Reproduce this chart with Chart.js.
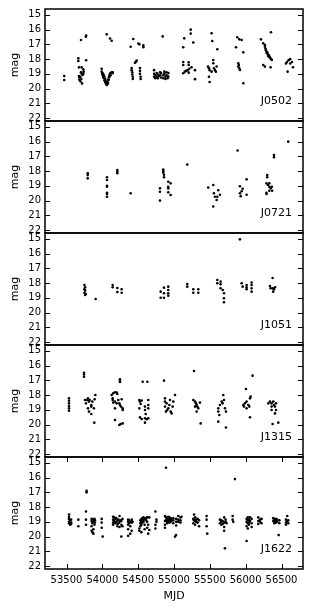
<!DOCTYPE html>
<html>
<head>
<meta charset="utf-8">
<script src="https://cdn.jsdelivr.net/npm/chart.js@4.4.1/dist/chart.umd.min.js"></script>
<style>
  html, body { margin: 0; padding: 0; background: #fff; }
  #fig { position: relative; width: 313px; height: 613px; overflow: hidden; }
  #fig canvas { position: absolute; left: 0; }
</style>
</head>
<body>
<div id="fig"></div>
<script>
// ---- data ----
const names = ['J0502', 'J0721', 'J1051', 'J1315', 'J1622'];
const xTicks = [53500, 54000, 54500, 55000, 55500, 56000, 56500];
const yTicks = [15, 16, 17, 18, 19, 20, 21, 22];

// one entry per epoch (MJD), with the magnitudes measured at it
const j0502Days = [
  53468, 53665, 53674, 53679, 53693, 53702, 53707, 53712, 53716, 53725, 53735, 53739, 53770, 53774,
  53991, 54000, 54010, 54020, 54030, 54040, 54050, 54061, 54070, 54080, 54090, 54100, 54107, 54115, 54130, 54145,
  54395, 54409, 54418, 54425, 54432, 54455, 54469, 54479, 54502, 54516, 54525, 54535, 54572,
  54722, 54740, 54758, 54775, 54790, 54805, 54820, 54842, 54850, 54865, 54880, 54895, 54910, 54922,
  55129, 55143, 55150, 55170, 55190, 55205, 55214, 55233, 55245, 55269, 55293,
  55474, 55488, 55497, 55525, 55534, 55548, 55557, 55571, 55585, 55595, 55604,
  55865, 55883, 55897, 55905, 55911, 55920, 55944, 55967,
  56213, 56245, 56269, 56276, 56283, 56290, 56297, 56304, 56311, 56318, 56325, 56332, 56339, 56346, 56348, 56353, 56365,
  56562, 56576, 56585, 56599, 56622, 56646, 56660
];
const j0502Mags = [
  [19.15, 19.42], [17.95, 18.13], [18.56, 19.15], [19.25, 19.4], [19.2, 19.5], [16.7, 18.9], [19.35], [18.56, 19.0], [19.65], [19.08], [18.7, 19.0], [18.85], [16.48], [16.4, 18.08],
  [18.65, 18.85], [18.95, 19.05], [19.0, 19.2], [19.1, 19.3], [19.2, 19.45], [19.35, 19.55], [19.5, 19.65], [16.32, 19.6, 19.75], [19.55, 19.7], [19.4, 19.6], [19.25, 19.4], [19.1, 19.2], [16.6, 19.0], [18.95, 19.1], [16.75, 18.9], [18.9, 18.95],
  [17.16], [18.6, 18.75], [18.9, 19.05], [19.2, 19.35], [16.64], [18.25], [18.18], [18.1], [16.94], [17.0], [18.6, 18.8, 19.0], [19.2, 19.35], [17.07, 17.2],
  [18.75, 19.0, 19.2], [19.1, 19.3], [18.95, 19.2], [19.05, 19.3], [19.15], [18.9, 19.1], [18.95, 19.25], [16.46], [19.1, 19.3], [18.85, 19.0], [19.2, 19.35], [18.9, 19.1], [19.15, 19.3], [18.95, 19.2],
  [17.2, 18.2, 18.4, 18.96], [16.59], [18.85], [18.8], [18.75], [18.22, 18.4, 18.92], [18.65], [16.0, 16.27], [18.55], [16.87], [18.75, 19.36],
  [18.51], [18.62, 19.2], [18.75, 19.55], [16.25, 18.85], [16.77], [18.06, 18.28], [18.62], [18.75], [18.85], [18.5], [17.33],
  [17.2], [16.52], [18.28, 18.5], [18.4], [16.66, 18.62], [18.74], [16.7], [17.54, 19.64],
  [16.66], [16.93, 18.4], [17.04, 17.16, 18.51], [17.3], [17.4], [17.5], [17.6], [17.55], [17.7], [17.8], [17.75], [17.85], [17.9], [17.95], [18.56], [16.18, 18.0], [18.05],
  [18.3], [18.2], [18.85], [18.07], [18.0, 18.3], [18.2], [18.55]
];

const j0721Days = [
  53796, 54065, 54209, 54395,
  54804, 54850, 54860, 54920, 54953, 55185,
  55478, 55548, 55557, 55571, 55595, 55604, 55618, 55641,
  55888, 55920, 55930, 55944, 55958, 56013,
  56290, 56301, 56310, 56330, 56350, 56365, 56370, 56395, 56594
];
const j0721Mags = [
  [18.15, 18.27, 18.49], [18.42, 18.6, 18.99, 19.06, 19.47, 19.55, 19.74], [17.92, 18.04, 18.15], [19.5],
  [19.17, 19.4, 20.0], [17.9, 17.97, 18.1], [18.25, 18.42], [18.72, 19.06, 19.17, 19.44], [18.83, 19.62], [17.56],
  [19.12], [18.94, 20.4], [19.5], [19.74], [19.96], [19.74], [19.3], [19.6],
  [16.6], [19.03, 19.5], [19.7], [19.37], [19.2], [18.56, 19.6],
  [18.83, 19.47, 19.55], [18.27, 18.42], [18.94], [18.83, 19.06, 19.33], [19.17], [19.06], [19.33], [16.91, 17.06], [16.0]
];

const j1051Days = [
  53750, 53760, 53770, 53907, 54144, 54209, 54270,
  54814, 54860, 54920, 55185, 55269, 55339,
  55604, 55650, 55680, 55697,
  55920, 55944, 55958, 56013, 56083,
  56339, 56348, 56376, 56385, 56395, 56409
];
const j1051Mags = [
  [18.13, 18.42, 18.65], [18.28, 18.51, 18.81], [18.74], [19.08], [18.13, 18.28], [18.33, 18.6], [18.42, 18.65],
  [18.58, 18.99], [18.31, 18.69, 19.0], [18.24, 18.47, 18.69, 18.85], [18.06, 18.24], [18.42, 18.65], [18.42, 18.65],
  [17.79, 18.01], [17.9, 18.08, 18.35], [18.47], [18.69, 19.03, 19.3],
  [15.03], [18.01], [18.24], [18.13, 18.29, 18.42], [17.96, 18.13, 18.35, 18.58],
  [18.2], [18.35], [17.65, 18.35], [18.58], [18.42], [18.28]
];

const j1315Days = [
  53535, 53744, 53758, 53772, 53790, 53800, 53814, 53823, 53846, 53860, 53883, 53888, 53893, 53902,
  54130, 54144, 54153, 54177, 54200, 54209, 54223, 54237, 54246, 54255, 54260, 54270, 54284,
  54516, 54525, 54535, 54549, 54563, 54595, 54605, 54618, 54628, 54641,
  54860, 54874, 54888, 54897, 54906, 54920, 54935, 54944, 54953, 54967, 54981, 54990, 55014,
  55269, 55279, 55293, 55307, 55316, 55325, 55339, 55362, 55372,
  55618, 55632, 55641, 55665, 55679, 55688, 55697, 55711, 55725,
  55967, 55976, 55990, 56004, 56013, 56037, 56051, 56060, 56070, 56097,
  56316, 56339, 56362, 56376, 56385, 56395, 56409, 56423, 56455
];
const j1315Mags = [
  [18.22, 18.38, 18.56, 18.74, 18.9, 19.06], [16.48, 16.61, 16.75], [18.33], [18.56], [18.33], [18.22, 18.9], [18.44, 19.12], [18.33], [18.67, 18.78, 19.28], [18.44], [18.9], [19.87], [18.28], [17.99],
  [17.99], [18.22, 18.33], [17.88, 18.51], [17.81, 18.44, 18.9, 19.69], [17.83, 18.56], [17.92], [18.33], [18.56, 20.03], [16.93, 17.02, 17.11, 18.67], [19.96], [18.78], [18.28], [18.9, 19.01, 19.92],
  [18.33, 18.9], [18.44, 19.51], [18.6], [18.37, 19.62], [17.09], [18.78, 19.01, 19.57, 19.87], [19.28], [19.64], [17.09], [18.33, 18.67, 18.9, 19.57],
  [17.02], [18.22, 18.44, 18.78], [19.12], [18.56], [19.01], [18.9], [18.67], [18.33], [19.12], [19.24], [18.78], [18.44], [17.99],
  [18.33], [16.36], [18.44, 18.78], [18.56], [18.67, 19.12], [18.78], [18.9], [18.51], [19.92],
  [18.9, 19.12, 19.8], [19.35], [18.67], [18.44], [18.56], [17.99], [18.33], [18.9], [19.12, 20.2],
  [18.67], [18.78], [18.56], [17.59], [18.44, 18.9], [18.67], [18.78], [18.22, 19.51], [18.1], [16.68],
  [18.56], [18.44], [18.56, 19.01, 18.78], [19.96], [18.44], [18.67], [18.78, 19.24], [19.01, 18.56], [19.87]
];

const j1622Days = [
  53535, 53550, 53565, 53665, 53772, 53780,
  53850, 53860, 53875, 53890, 53897, 53991, 54005,
  54150, 54165, 54180, 54195, 54210, 54225, 54240, 54255, 54265, 54280,
  54360, 54375, 54390, 54410, 54423,
  54516, 54530, 54545, 54560, 54575, 54590, 54610, 54625, 54640, 54655,
  54740, 54755,
  54874, 54888, 54905, 54920, 54935, 54950, 54965, 54990, 55014, 55028, 55030, 55060, 55090, 55105,
  55269, 55280, 55295, 55310, 55330, 55350, 55455, 55464,
  55641, 55660, 55680, 55700, 55711, 55720, 55734, 55818, 55827, 55850,
  56013, 56030, 56045, 56060, 56083, 56176, 56200, 56222,
  56385, 56400, 56420, 56440, 56460, 56470, 56562, 56580, 56594
];
const j1622Mags = [
  [18.5, 18.65, 18.8, 19.0, 19.1], [18.9, 19.2], [18.85, 19.05, 19.15], [18.85, 19.3], [18.3, 18.85, 19.2], [16.9, 17.0],
  [18.8, 18.95, 19.3, 19.6], [19.1, 19.7], [18.85, 19.0, 19.5, 19.8], [18.8, 19.2], [18.9, 19.05], [18.8, 19.05, 19.4], [20.0],
  [18.65, 18.85, 19.05, 19.2], [18.7, 18.95], [18.8, 19.1], [18.75, 19.0], [18.9, 19.15, 19.3], [18.85, 19.1], [18.6, 19.0, 19.35], [18.9], [18.95, 19.2, 20.0], [18.8, 19.3],
  [18.85, 19.0, 19.2, 19.5, 19.95], [18.9, 19.1], [19.0, 19.3, 19.8], [18.85, 19.05, 19.6], [19.0],
  [19.45, 19.6], [18.9, 19.1, 19.3], [18.8, 19.0, 19.2, 19.7], [18.75, 18.9, 19.05], [18.7, 18.85, 19.0], [18.8, 19.2, 19.5], [18.75, 18.9], [18.7, 19.0, 19.4], [19.2, 19.8], [18.7, 19.55],
  [18.3, 19.2, 19.45], [18.85, 19.0],
  [18.6, 18.95, 19.2, 19.4], [15.33, 18.7, 18.9], [18.8, 19.0, 19.1], [18.65, 18.85, 18.95], [18.7, 18.9, 19.05], [18.75, 18.85, 19.0], [18.8, 18.95], [18.75, 18.9, 19.1], [20.0], [19.9], [18.8, 19.0, 19.25], [18.6, 18.85, 19.0], [18.7, 18.9, 19.05], [18.65],
  [18.8, 19.1], [18.5, 18.9], [18.7, 18.95, 19.2], [18.85, 19.0], [18.8, 19.05], [18.9, 19.3], [18.6, 18.85, 19.3], [19.8],
  [18.85, 19.1], [18.9, 19.0, 19.2], [18.95, 19.15], [18.7, 19.05, 19.35, 19.6], [20.8], [18.85, 19.0], [19.1], [18.6, 18.85], [19.0], [16.1],
  [18.8, 19.0, 19.3, 20.3], [18.7, 18.9, 19.1, 19.45], [18.85, 19.05, 19.2], [18.7, 18.95], [18.8, 19.1, 19.35], [18.7, 18.95, 19.15], [18.85, 19.0], [18.8, 19.1],
  [18.75, 18.95], [18.85, 19.0, 19.1], [18.8, 18.9, 19.05], [18.85, 19.0], [19.9], [18.9, 19.1], [18.85, 19.05, 19.2], [18.6, 18.95], [18.9, 19.1]
];

const allDays = [j0502Days, j0721Days, j1051Days, j1315Days, j1622Days];
const allMags = [j0502Mags, j0721Mags, j1051Mags, j1315Mags, j1622Mags];

// ---- layout ----
const PANEL_TOP = 9;    // top of the first plot box
const PANEL_H = 112;    // height of every plot box
const PAD = 8;          // room above/below each box inside its canvas
const FONT = 'DejaVu Sans';

function toPoints(days, mags) {
  const pts = [];
  days.forEach((d, i) => (mags[i] || []).forEach(m => pts.push({ x: d, y: m })));
  return pts;
}

// frame, inward ticks and the object name, drawn like matplotlib
const frame = {
  id: 'frame',
  afterDatasetsDraw(chart, args, opts) {
    const { ctx, chartArea: a, scales } = chart;
    ctx.save();
    ctx.strokeStyle = '#000';
    ctx.lineWidth = 1;
    ctx.beginPath();
    yTicks.forEach(v => {
      const y = Math.round(scales.y.getPixelForValue(v)) + 0.5;
      ctx.moveTo(a.left, y); ctx.lineTo(a.left + 5, y);
      ctx.moveTo(a.right, y); ctx.lineTo(a.right - 5, y);
    });
    if (opts.xTicks) {
      xTicks.forEach(v => {
        const x = Math.round(scales.x.getPixelForValue(v)) + 0.5;
        ctx.moveTo(x, a.bottom); ctx.lineTo(x, a.bottom - 5);
        ctx.moveTo(x, a.top); ctx.lineTo(x, a.top + 5);
      });
    }
    ctx.stroke();
    ctx.lineWidth = 1.5;
    ctx.strokeRect(a.left, a.top, a.right - a.left, a.bottom - a.top);
    ctx.fillStyle = '#000';
    ctx.font = '11px "' + FONT + '"';
    ctx.textAlign = 'right';
    ctx.textBaseline = 'alphabetic';
    ctx.fillText(opts.name, a.right - 11, a.bottom - 17.5);
    ctx.restore();
  }
};

const fig = document.getElementById('fig');

names.forEach((name, i) => {
  const isLast = i === names.length - 1;
  const top = PANEL_TOP + i * PANEL_H - PAD;
  const height = isLast ? 613 - top : PANEL_H + 2 * PAD;

  const canvas = document.createElement('canvas');
  canvas.width = 313;
  canvas.height = height;
  canvas.style.top = top + 'px';
  fig.appendChild(canvas);

  new Chart(canvas, {
    type: 'scatter',
    data: {
      datasets: [{
        data: toPoints(allDays[i], allMags[i]),
        backgroundColor: '#000',
        borderWidth: 0,
        pointRadius: 1.3,
        pointHoverRadius: 1.3
      }]
    },
    options: {
      responsive: false,
      animation: false,
      events: [],
      layout: { padding: { top: PAD, bottom: isLast ? 0 : PAD, left: 0, right: 10 } },
      plugins: {
        legend: { display: false },
        tooltip: { enabled: false },
        frame: { name: name, xTicks: isLast }
      },
      scales: {
        x: {
          type: 'linear',
          min: 53200,
          max: 56800,
          display: isLast,
          grid: { display: false, drawTicks: false },
          border: { display: false },
          afterBuildTicks: s => { s.ticks = xTicks.map(v => ({ value: v })); },
          afterFit: s => { if (isLast) s.height = 44; },
          ticks: {
            padding: 5,
            color: '#000',
            autoSkip: false,
            maxRotation: 0,
            font: { size: 10, family: FONT },
            callback: v => String(v)
          },
          title: {
            display: true,
            text: 'MJD',
            color: '#000',
            font: { size: 11, family: FONT },
            padding: { top: 0, bottom: 10 }
          }
        },
        y: {
          type: 'linear',
          min: 14.6,
          max: 22.2,
          reverse: true,
          grid: { display: false, drawTicks: false },
          border: { display: false },
          afterBuildTicks: s => { s.ticks = yTicks.map(v => ({ value: v })); },
          afterFit: s => { s.width = 45; s.paddingTop = 0; s.paddingBottom = 0; },
          ticks: {
            padding: 4,
            color: '#000',
            autoSkip: false,
            font: { size: 10, family: FONT }
          },
          title: {
            display: true,
            text: 'mag',
            color: '#000',
            font: { size: 11, family: FONT },
            padding: { top: 9, bottom: 0 }
          }
        }
      }
    },
    plugins: [frame]
  });
});
</script>
</body>
</html>
